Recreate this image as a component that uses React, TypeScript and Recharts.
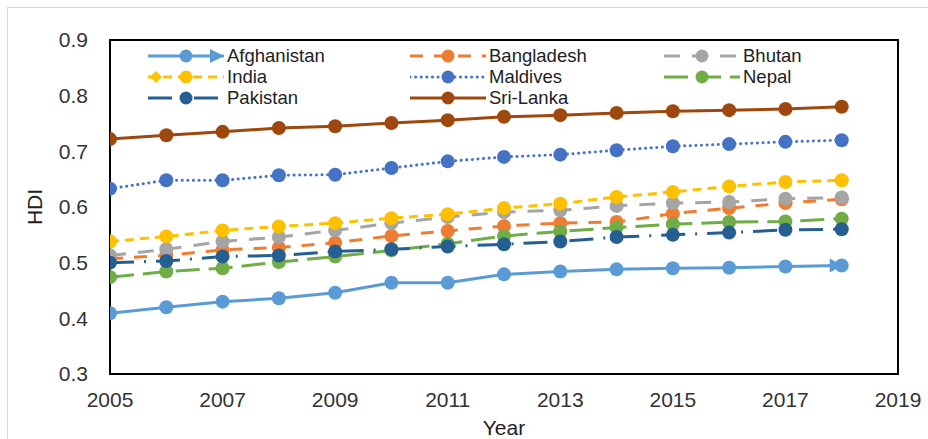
import React from 'react';
import { LineChart, Line, XAxis, YAxis, ReferenceArea } from 'recharts';

const years = [2005, 2006, 2007, 2008, 2009, 2010, 2011, 2012, 2013, 2014, 2015, 2016, 2017, 2018];
const xTicks = [2005, 2007, 2009, 2011, 2013, 2015, 2017, 2019];
const yTicks = [0.3, 0.4, 0.5, 0.6, 0.7, 0.8, 0.9];

const afghanistan = [0.409, 0.42, 0.43, 0.436, 0.446, 0.464, 0.464, 0.479, 0.484, 0.488, 0.49, 0.491, 0.493, 0.495];
const bangladesh = [0.507, 0.513, 0.523, 0.527, 0.536, 0.548, 0.557, 0.566, 0.571, 0.573, 0.588, 0.598, 0.607, 0.614];
const bhutan = [0.513, 0.524, 0.538, 0.546, 0.558, 0.571, 0.582, 0.591, 0.594, 0.602, 0.607, 0.609, 0.615, 0.617];
const india = [0.538, 0.547, 0.558, 0.565, 0.571, 0.58, 0.587, 0.598, 0.606, 0.618, 0.627, 0.637, 0.645, 0.648];
const maldives = [0.633, 0.648, 0.648, 0.657, 0.658, 0.67, 0.682, 0.69, 0.694, 0.702, 0.709, 0.713, 0.717, 0.72];
const nepal = [0.474, 0.484, 0.49, 0.501, 0.511, 0.522, 0.534, 0.548, 0.556, 0.563, 0.569, 0.573, 0.574, 0.579];
const pakistan = [0.5, 0.503, 0.511, 0.513, 0.52, 0.524, 0.529, 0.533, 0.538, 0.546, 0.55, 0.554, 0.559, 0.56];
const sriLanka = [0.722, 0.729, 0.735, 0.742, 0.745, 0.751, 0.756, 0.762, 0.765, 0.769, 0.772, 0.774, 0.776, 0.78];

const seriesDefs = [
  { key: 'Afghanistan', values: afghanistan, color: '#5B9BD5', dash: undefined as string | undefined, cap: 'butt' },
  { key: 'Bangladesh', values: bangladesh, color: '#ED7D31', dash: '13 11', cap: 'butt' },
  { key: 'Bhutan', values: bhutan, color: '#A5A5A5', dash: '16 12', cap: 'butt' },
  { key: 'India', values: india, color: '#FFC000', dash: '9 6', cap: 'butt' },
  { key: 'Maldives', values: maldives, color: '#4472C4', dash: '0.1 5.5', cap: 'round' },
  { key: 'Nepal', values: nepal, color: '#70AD47', dash: '24 9', cap: 'butt' },
  { key: 'Pakistan', values: pakistan, color: '#255E91', dash: '24 10 2 10', cap: 'butt' },
  { key: 'Sri-Lanka', values: sriLanka, color: '#9E480E', dash: undefined as string | undefined, cap: 'butt' },
];

const data = years.map((y, i) => {
  const row: Record<string, number> = { year: y };
  seriesDefs.forEach((s) => {
    row[s.key] = s.values[i];
  });
  return row;
});

const FONT = '"Liberation Sans", Arial, sans-serif';

const makeDot = (color: string, arrowLast: boolean) => (props: any) => {
  const { cx, cy, index } = props;
  if (cx == null || cy == null) return <g key={`d-${index}`} />;
  return (
    <g key={`d-${index}`}>
      {arrowLast && index === years.length - 1 ? (
        <path d={`M${cx - 12},${cy - 7} L${cx + 1},${cy} L${cx - 12},${cy + 7} Z`} fill={color} />
      ) : null}
      <circle cx={cx} cy={cy} r={7} fill={color} stroke="none" />
    </g>
  );
};

const LegendIcon = ({ s }: { s: (typeof seriesDefs)[number] }) => {
  const w = 76;
  return (
    <svg width={w} height={14} style={{ display: 'block' }}>
      <line
        x1={0}
        y1={7}
        x2={w}
        y2={7}
        stroke={s.color}
        strokeWidth={3}
        strokeDasharray={s.dash}
        strokeLinecap={s.cap as any}
      />
      {s.key === 'India' ? <path d="M2,7 L8,1 L14,7 L8,13 Z" fill={s.color} /> : null}
      {s.key === 'Afghanistan' ? <path d={`M${w - 14},0 L${w},7 L${w - 14},14 Z`} fill={s.color} /> : null}
      <circle cx={w / 2} cy={7} r={6.5} fill={s.color} />
    </svg>
  );
};

const ChartLegend = () => {
  const colX = [0, 262, 516];
  return (
    <div
      style={{
        position: 'absolute',
        left: 148,
        top: 45,
        width: 760,
        height: 66,
        fontFamily: FONT,
        fontSize: 18.5,
        color: '#222',
      }}
    >
      {seriesDefs.map((s, i) => {
        const col = i % 3;
        const row = Math.floor(i / 3);
        return (
          <div
            key={s.key}
            style={{
              position: 'absolute',
              left: colX[col],
              top: row * 21,
              display: 'flex',
              alignItems: 'center',
              height: 21,
              whiteSpace: 'nowrap',
            }}
          >
            <LegendIcon s={s} />
            <span style={{ marginLeft: 3 }}>{s.key}</span>
          </div>
        );
      })}
    </div>
  );
};

export default function App() {
  return (
    <div style={{ position: 'absolute', left: 0, top: 0, width: 928, height: 439, background: '#fff' }}>
      <div
        style={{
          position: 'absolute',
          left: 7,
          top: 7,
          right: 0,
          bottom: 0,
          borderLeft: '1px solid #d9d9d9',
          borderTop: '1px solid #d9d9d9',
        }}
      />
      <div style={{ position: 'absolute', left: 0, top: 0 }}>
        <LineChart width={928} height={439} data={data} margin={{ top: 40, right: 30, bottom: 0, left: 0 }}>
          <XAxis
            dataKey="year"
            type="number"
            domain={[2005, 2019]}
            ticks={xTicks}
            allowDataOverflow
            tickLine={false}
            axisLine={false}
            tickSize={0}
            tickMargin={18}
            height={65}
            tick={{ fontFamily: FONT, fontSize: 21, fill: '#333' }}
            label={{ value: 'Year', position: 'insideBottom', offset: 4, fontFamily: FONT, fontSize: 21, fill: '#222' }}
          />
          <YAxis
            type="number"
            domain={[0.3, 0.9]}
            ticks={yTicks}
            tickFormatter={(v: number) => v.toFixed(1)}
            tickLine={false}
            axisLine={false}
            tickSize={0}
            tickMargin={22}
            width={110}
            tick={{ fontFamily: FONT, fontSize: 21, fill: '#333' }}
            label={{
              value: 'HDI',
              angle: -90,
              position: 'insideLeft',
              offset: 35,
              textAnchor: 'middle',
              fontFamily: FONT,
              fontSize: 21,
              fill: '#222',
            }}
          />
          <ReferenceArea x1={2005} x2={2019} y1={0.3} y2={0.9} fill="none" stroke="#000" strokeWidth={2} ifOverflow="visible" />
          {seriesDefs.map((s) => (
            <Line
              key={s.key}
              dataKey={s.key}
              type="linear"
              stroke={s.color}
              strokeWidth={3}
              strokeDasharray={s.dash}
              strokeLinecap={s.cap as any}
              dot={makeDot(s.color, s.key === 'Afghanistan')}
              activeDot={false}
              isAnimationActive={false}
            />
          ))}
        </LineChart>
      </div>
      <ChartLegend />
    </div>
  );
}
